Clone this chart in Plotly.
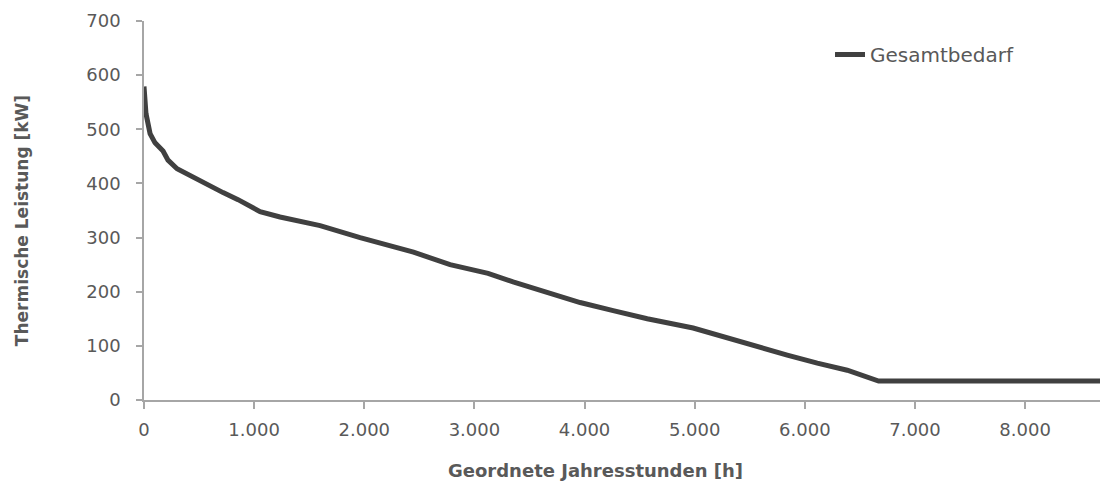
import plotly.graph_objects as go

# Data (ordered annual hours vs. thermal load)
hours = [0, 6, 18, 55, 100, 173, 218, 300, 418, 572, 718, 854, 1054, 1235, 1599,
         1962, 2234, 2447, 2779, 3000, 3124, 3351, 3688, 3960, 4260, 4569, 4986, 5232,
         5531, 5840, 6113, 6385, 6670, 8760]
load_kw = [579, 553, 529, 492, 475, 460, 443, 427, 414, 399, 383, 370, 348, 338, 322,
           300, 285, 273, 250, 241, 234, 218, 197, 180, 165, 150, 133, 118,
           100, 83, 68, 55, 35, 35]
series_name = "Gesamtbedarf"
x_title = "Geordnete Jahresstunden [h]"
y_title = "Thermische Leistung [kW]"
x_ticks = [0, 1000, 2000, 3000, 4000, 5000, 6000, 7000, 8000]

font_family = "DejaVu Sans"
tick_color = "#595959"
axis_color = "#a6a6a6"

fig = go.Figure()
fig.add_trace(go.Scatter(
    x=hours, y=load_kw, mode="lines", name=series_name,
    line=dict(color="#404040", width=5),
))

fig.update_layout(
    width=1100, height=485,
    margin=dict(l=144, r=0, t=21, b=85),
    paper_bgcolor="white", plot_bgcolor="white",
    separators=",.",
    font=dict(family=font_family, size=18, color=tick_color),
    showlegend=True,
    legend=dict(x=0.7176, y=0.963, xanchor="left", yanchor="top",
                bgcolor="rgba(0,0,0,0)", font=dict(size=20, color=tick_color)),
    xaxis=dict(range=[0, 8680], tickvals=x_ticks,
               tickformat=",d", showgrid=False, zeroline=False,
               showline=True, linecolor=axis_color, linewidth=1.5,
               ticks="outside", ticklen=7, tickcolor=axis_color, tickwidth=1.5,
               ticklabelstandoff=6,
               tickfont=dict(size=18, color=tick_color)),
    yaxis=dict(range=[0, 700], dtick=100, showgrid=False, zeroline=False,
               showline=True, linecolor=axis_color, linewidth=1.5,
               ticks="outside", ticklen=6, tickcolor=axis_color, tickwidth=1.5,
               ticklabelstandoff=12,
               tickfont=dict(size=18, color=tick_color)),
    annotations=[
        dict(text="<b>" + x_title + "</b>", xref="paper", yref="paper",
             x=0.472, y=-0.1847, xanchor="center", yanchor="middle", showarrow=False,
             font=dict(size=18, color=tick_color)),
        dict(text="<b>" + y_title + "</b>", xref="paper", yref="paper",
             x=-0.1276, y=0.472, xanchor="center", yanchor="middle", showarrow=False,
             textangle=-90, font=dict(size=17, color=tick_color)),
    ],
)

fig.write_html("out.html", config={"displayModeBar": False},
               post_script="document.body.style.margin='0';")
